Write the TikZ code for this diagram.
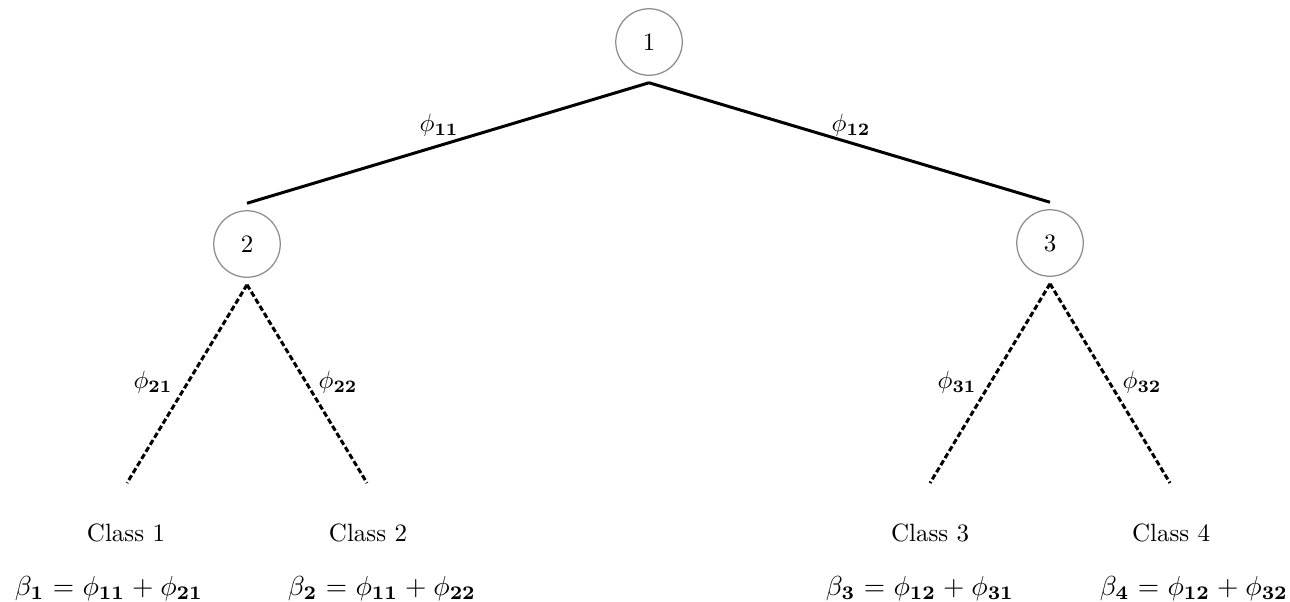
\documentclass[tikz,border=0pt]{standalone}
\usepackage{amsmath}
\begin{document}
\begin{tikzpicture}[x=0.4pt,y=-0.4pt,
  state/.style={circle,draw=gray!90,line width=0.5pt,minimum size=26.6pt,inner sep=0pt,outer sep=3pt},
  solidedge/.style={line width=1.2pt,black},
  dashedge/.style={line width=1.2pt,black,dash pattern=on 2.2pt off 1.1pt},
  lbl/.style={inner sep=1pt},
  cls/.style={anchor=base,inner sep=0pt},
  eq/.style={anchor=base,inner sep=0pt,scale=1.1,execute at begin node={\thickmuskip=5.5mu\medmuskip=4.5mu}}]
\useasboundingbox (0,0) rectangle (1290,601);
\node[state] (n1) at (649,42) {1};
\node[state] (n2) at (247,244) {2};
\node[state] (n3) at (1050,243) {3};
\coordinate (l1) at (127,483);
\coordinate (l2) at (367,483);
\coordinate (l3) at (930,483);
\coordinate (l4) at (1170,483);
\draw[solidedge] (n1.south) -- (n2.north);
\draw[solidedge] (n1.south) -- (n3.north);
\draw[dashedge] (n2.south) -- (l1);
\draw[dashedge] (n2.south) -- (l2);
\draw[dashedge] (n3.south) -- (l3);
\draw[dashedge] (n3.south) -- (l4);
\node[lbl] (p11) at (439,125) {$\phi_{\mathbf{11}}$};
\node[lbl] (p12) at (851,125) {$\phi_{\mathbf{12}}$};
\node[lbl] (p21) at (153,382) {$\phi_{\mathbf{21}}$};
\node[lbl] (p22) at (338,382) {$\phi_{\mathbf{22}}$};
\node[lbl] (p31) at (957,382) {$\phi_{\mathbf{31}}$};
\node[lbl] (p32) at (1142,382) {$\phi_{\mathbf{32}}$};
\node[cls] (c1) at (126,541) {Class 1};
\node[cls] (c2) at (368,541) {Class 2};
\node[cls] (c3) at (930,541) {Class 3};
\node[cls] (c4) at (1171,541) {Class 4};
\node[eq] (b1) at (109,595) {$\beta_{\mathbf{1}} = \phi_{\mathbf{11}} + \phi_{\mathbf{21}}$};
\node[eq] (b2) at (382,595) {$\beta_{\mathbf{2}} = \phi_{\mathbf{11}} + \phi_{\mathbf{22}}$};
\node[eq] (b3) at (920,595) {$\beta_{\mathbf{3}} = \phi_{\mathbf{12}} + \phi_{\mathbf{31}}$};
\node[eq] (b4) at (1194,595) {$\beta_{\mathbf{4}} = \phi_{\mathbf{12}} + \phi_{\mathbf{32}}$};
\end{tikzpicture}
\end{document}
